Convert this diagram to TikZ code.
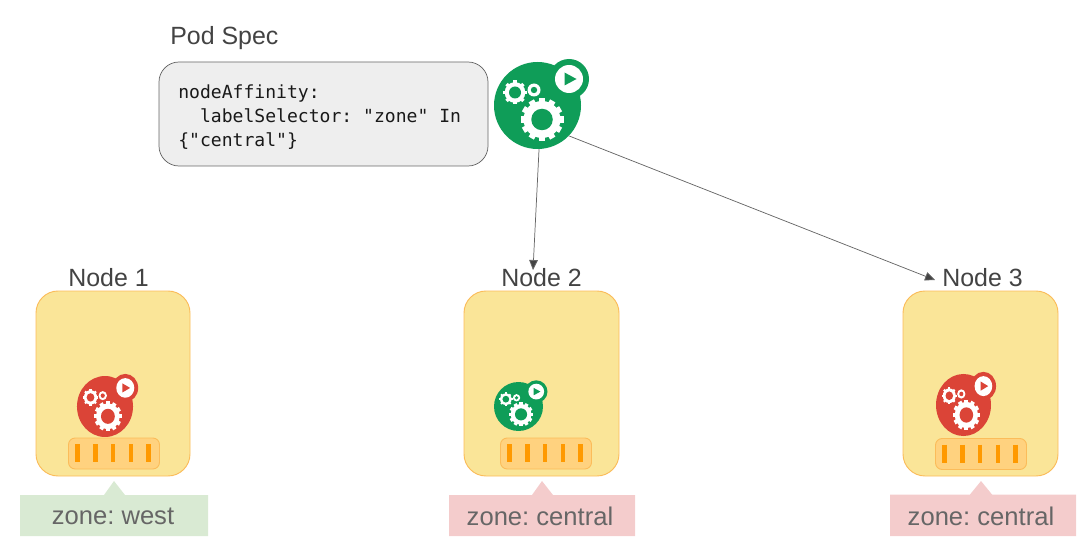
\documentclass[tikz,border=0pt]{standalone}
\usepackage{fontspec}
\setmainfont{Liberation Sans}
\newfontfamily\codefont{DejaVu Sans Mono}
\usetikzlibrary{arrows.meta}
\definecolor{podgreen}{HTML}{0F9D58}
\definecolor{podred}{HTML}{DB4437}
\definecolor{labeldark}{HTML}{434343}
\definecolor{zonetext}{HTML}{666666}
\definecolor{zonegreen}{HTML}{D9EAD3}
\definecolor{zonepink}{HTML}{F4CCCC}
\definecolor{nodefill}{HTML}{FAE598}
\definecolor{nodeedge}{HTML}{FBBC5A}
\definecolor{barfill}{HTML}{FFD27F}
\definecolor{tickcol}{HTML}{FF9900}
\newcommand{\podgear}[5]{%
  \foreach \a in {0,#4,...,179}{
    \fill[white,rotate around={\a:(#1,#2)}] ({#1-0.14*#3},{#2-#3}) rectangle ({#1+0.14*#3},{#2+#3});
  }
  \fill[white] (#1,#2) circle ({0.86*#3});
  \fill[#5] (#1,#2) circle ({0.5*#3});
}
\tikzset{
  x=0.75pt,y=-0.75pt,
  nodebox/.style={draw=nodeedge,fill=nodefill,line width=0.7pt,rounded corners=16.5pt},
  barbox/.style={draw=nodeedge,fill=barfill,line width=0.7pt,rounded corners=5pt},
  tick/.style={tickcol,line width=3.4pt},
  nodelabel/.style={text=labeldark,font=\fontsize{18.7pt}{22pt}\selectfont,inner sep=0pt},
  zonelabel/.style={text=zonetext,font=\fontsize{19.2pt}{22pt}\selectfont,inner sep=0pt},
  conn/.style={draw=zonetext,line width=0.55pt,-{Triangle[length=7.5pt,width=6.5pt,fill=labeldark]}},
  pics/podicon/.style={code={
    \fill[#1] (0,0) circle (43.5);
    \fill[#1] (31.5,-26.5) circle (20);
    \fill[white] (31.5,-26.5) circle (14);
    \fill[#1] (27,-33) -- (39,-26.5) -- (27,-20) -- cycle;
    \podgear{4.5}{14}{21.5}{30}{#1}
    \podgear{-22.5}{-13}{12}{45}{#1}
    \fill[white] (-3.5,-15.5) circle (6.5);
    \fill[#1] (-3.5,-15.5) circle (3.2);
  }}
}
\begin{document}
\frenchspacing
\begin{tikzpicture}
\useasboundingbox (0,0) rectangle (1080,538);
% pod spec
\node[nodelabel,anchor=west] (spectitle) at (170,38) {Pod Spec};
\draw[draw=zonetext,fill=black!6.5,line width=0.55pt,rounded corners=15pt] (159,62) rectangle (488,166);
\node[anchor=north west,inner sep=0pt,align=left,text=black!90,font=\codefont\fontsize{13.55pt}{18pt}\selectfont] (spec) at (178,84.5) {nodeAffinity:\\\ \ labelSelector: "zone" In\\\{"central"\}};
% main pod
\node[circle,minimum size=65.25pt,inner sep=0pt] (pod) at (537.5,105.5) {};
\pic at (537.5,105.5) {podicon=podgreen};
% worker node boxes
\draw[nodebox] (36,291) rectangle (190,476);
\draw[nodebox] (464,291) rectangle (619,476);
\draw[nodebox] (903,291) rectangle (1058,476);
\node[nodelabel] (n1) at (108.5,278) {Node 1};
\node[nodelabel] (n2) at (541.5,278) {Node 2};
\node[nodelabel] (n3) at (982.5,278) {Node 3};
% pods on nodes
\pic[xscale=0.644,yscale=0.701] at (105,406.5) {podicon=podred};
\pic[scale=0.563] at (518.5,406.5) {podicon=podgreen};
\pic[xscale=0.632,yscale=0.713] at (963.5,405) {podicon=podred};
% bars
\foreach \bx/\by in {68.5/438,500.5/438,935.5/438.5}{
  \draw[barbox] (\bx,\by) rectangle ++(91,31);
  \foreach \dx in {9.2,26.8,44.5,62.5,80.2}{
    \draw[tick] ({\bx+\dx},{\by+6}) -- ++(0,18);
  }
}
% zone labels
\fill[zonegreen] (20,495) -- (104,495) -- (114,481) -- (125,495) -- (208,495) -- (208,536) -- (20,536) -- cycle;
\fill[zonepink] (449,495) -- (532,495) -- (542,481) -- (553,495) -- (635,495) -- (635,536) -- (449,536) -- cycle;
\fill[zonepink] (890,494.5) -- (970,494.5) -- (981,481) -- (992,494.5) -- (1076,494.5) -- (1076,536) -- (890,536) -- cycle;
\node[zonelabel] (z1) at (113,516) {zone: west};
\node[zonelabel] (z2) at (540,516) {zone: central};
\node[zonelabel] (z3) at (981,516) {zone: central};
% connectors
\coordinate (tip2) at (533,270);
\coordinate (tip3) at (935,280);
\draw[conn] (pod.-88) -- (tip2);
\draw[conn] (pod.-44) -- (tip3);
\end{tikzpicture}
\end{document}
